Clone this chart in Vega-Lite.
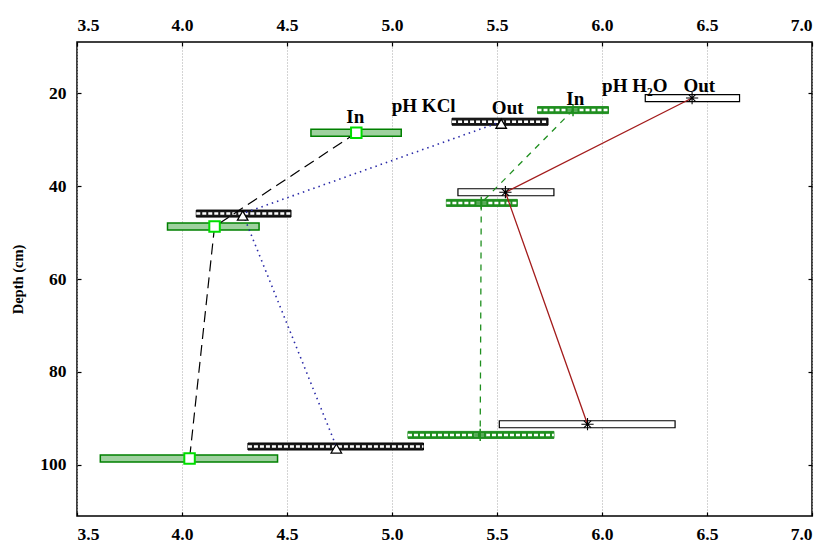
{
  "$schema": "https://vega.github.io/schema/vega-lite/v6.json",
  "width": 735,
  "height": 474,
  "autosize": "none",
  "padding": {"left": 77, "top": 42, "right": 11, "bottom": 29},
  "background": "white",
  "config": {
    "view": {"stroke": "black", "strokeWidth": 1.5},
    "font": "Liberation Serif",
    "axis": {
      "domain": false,
      "labelFont": "Liberation Serif",
      "labelFontWeight": "bold",
      "labelFontSize": 17.5,
      "labelColor": "black",
      "tickColor": "black",
      "tickWidth": 1.2,
      "titleFont": "Liberation Serif",
      "titleFontWeight": "bold",
      "titleFontSize": 14.5,
      "titleColor": "black"
    }
  },
  "datasets": {
    "profiles": [
      {"series": "KCl In", "depth": 28.5, "mean": 4.83, "lo": 4.614, "hi": 5.044},
      {"series": "KCl In", "depth": 48.7, "mean": 4.155, "lo": 3.931, "hi": 4.367},
      {"series": "KCl In", "depth": 98.7, "mean": 4.036, "lo": 3.611, "hi": 4.455},
      {"series": "KCl Out", "depth": 26.1, "mean": 5.52, "lo": 5.286, "hi": 5.743},
      {"series": "KCl Out", "depth": 45.9, "mean": 4.289, "lo": 4.068, "hi": 4.519},
      {"series": "KCl Out", "depth": 96.1, "mean": 4.735, "lo": 4.314, "hi": 5.15},
      {"series": "H2O In", "depth": 23.6, "mean": 5.862, "lo": 5.693, "hi": 6.031},
      {"series": "H2O In", "depth": 43.6, "mean": 5.425, "lo": 5.259, "hi": 5.597},
      {"series": "H2O In", "depth": 93.6, "mean": 5.42, "lo": 5.076, "hi": 5.771},
      {"series": "H2O Out", "depth": 21.0, "mean": 6.429, "lo": 6.206, "hi": 6.655},
      {"series": "H2O Out", "depth": 41.3, "mean": 5.54, "lo": 5.314, "hi": 5.771},
      {"series": "H2O Out", "depth": 91.3, "mean": 5.931, "lo": 5.511, "hi": 6.348}
    ],
    "labels": [
      {"text": "In", "mean": 4.825, "depth": 25.0},
      {"text": "pH KCl", "mean": 5.151, "depth": 22.8},
      {"text": "Out", "mean": 5.551, "depth": 23.1},
      {"text": "In", "mean": 5.873, "depth": 21.3},
      {"text": "pH H₂O", "mean": 6.156, "depth": 18.4},
      {"text": "Out", "mean": 6.463, "depth": 18.4}
    ]
  },
  "layer": [
    {
      "data": {"name": "profiles"},
      "transform": [{"filter": "datum.series === 'KCl In'"}],
      "mark": {"type": "bar", "orient": "horizontal", "size": 7, "fill": "#9fd19f", "stroke": "#008000", "strokeWidth": 1.5},
      "encoding": {
        "x": {"field": "lo", "type": "quantitative", "scale": {"domain": [3.5, 7], "nice": false, "zero": false},
          "axis": {"orient": "bottom", "title": null, "values": [3.5, 4, 4.5, 5, 5.5, 6, 6.5, 7], "format": ".1f",
            "grid": true, "gridDash": [1, 2], "gridColor": "#a8a8a8", "tickSize": -4, "labelPadding": 13}},
        "x2": {"field": "hi"},
        "y": {"field": "depth", "type": "quantitative", "scale": {"domain": [10, 110], "nice": false, "zero": false, "reverse": true},
          "axis": {"orient": "left", "title": "Depth (cm)", "values": [20, 40, 60, 80, 100], "grid": false,
            "tickSize": -4, "labelPadding": 15, "titlePadding": 14}}
      }
    },
    {
      "data": {"name": "profiles"},
      "transform": [{"filter": "datum.series === 'KCl Out'"}],
      "mark": {"type": "bar", "orient": "horizontal", "size": 7, "fill": "#1a1a1a", "stroke": "black", "strokeWidth": 1},
      "encoding": {
        "x": {"field": "lo", "type": "quantitative", "scale": {"domain": [3.5, 7], "nice": false, "zero": false},
          "axis": {"orient": "top", "title": null, "values": [3.5, 4, 4.5, 5, 5.5, 6, 6.5, 7], "format": ".1f",
            "grid": false, "tickSize": -4, "labelPadding": 12}},
        "x2": {"field": "hi"},
        "y": {"field": "depth", "type": "quantitative", "scale": {"domain": [10, 110], "nice": false, "zero": false, "reverse": true},
          "axis": {"orient": "right", "title": null, "values": [20, 40, 60, 80, 100], "grid": false, "labels": false, "tickSize": -4}}
      }
    },
    {
      "data": {"name": "profiles"},
      "transform": [{"filter": "datum.series === 'KCl Out'"}],
      "mark": {"type": "rule", "color": "white", "strokeWidth": 2.5, "strokeDash": [4, 2]},
      "encoding": {
        "x": {"field": "lo", "type": "quantitative", "scale": {"domain": [3.5, 7], "nice": false, "zero": false}, "axis": null},
        "x2": {"field": "hi"},
        "y": {"field": "depth", "type": "quantitative", "scale": {"domain": [10, 110], "nice": false, "zero": false, "reverse": true}, "axis": null}
      }
    },
    {
      "data": {"name": "profiles"},
      "transform": [{"filter": "datum.series === 'H2O In'"}],
      "mark": {"type": "bar", "orient": "horizontal", "size": 7, "fill": "#1f8f1f", "stroke": "#1f8f1f", "strokeWidth": 1},
      "encoding": {
        "x": {"field": "lo", "type": "quantitative", "scale": {"domain": [3.5, 7], "nice": false, "zero": false}, "axis": null},
        "x2": {"field": "hi"},
        "y": {"field": "depth", "type": "quantitative", "scale": {"domain": [10, 110], "nice": false, "zero": false, "reverse": true}, "axis": null}
      }
    },
    {
      "data": {"name": "profiles"},
      "transform": [{"filter": "datum.series === 'H2O In'"}],
      "mark": {"type": "rule", "color": "white", "strokeWidth": 2.5, "strokeDash": [4, 2]},
      "encoding": {
        "x": {"field": "lo", "type": "quantitative", "scale": {"domain": [3.5, 7], "nice": false, "zero": false}, "axis": null},
        "x2": {"field": "hi"},
        "y": {"field": "depth", "type": "quantitative", "scale": {"domain": [10, 110], "nice": false, "zero": false, "reverse": true}, "axis": null}
      }
    },
    {
      "data": {"name": "profiles"},
      "transform": [{"filter": "datum.series === 'H2O Out'"}],
      "mark": {"type": "bar", "orient": "horizontal", "size": 7, "fill": "white", "stroke": "black", "strokeWidth": 1.2},
      "encoding": {
        "x": {"field": "lo", "type": "quantitative", "scale": {"domain": [3.5, 7], "nice": false, "zero": false}, "axis": null},
        "x2": {"field": "hi"},
        "y": {"field": "depth", "type": "quantitative", "scale": {"domain": [10, 110], "nice": false, "zero": false, "reverse": true}, "axis": null}
      }
    },
    {
      "data": {"name": "profiles"},
      "transform": [{"filter": "datum.series === 'KCl In'"}],
      "mark": {"type": "line", "color": "black", "strokeWidth": 1.2, "strokeDash": [11, 6]},
      "encoding": {
        "x": {"field": "mean", "type": "quantitative", "scale": {"domain": [3.5, 7], "nice": false, "zero": false}, "axis": null},
        "y": {"field": "depth", "type": "quantitative", "scale": {"domain": [10, 110], "nice": false, "zero": false, "reverse": true}, "axis": null},
        "order": {"field": "depth"}
      }
    },
    {
      "data": {"name": "profiles"},
      "transform": [{"filter": "datum.series === 'KCl Out'"}],
      "mark": {"type": "line", "color": "#2a2aa8", "strokeWidth": 1.6, "strokeDash": [1.5, 4]},
      "encoding": {
        "x": {"field": "mean", "type": "quantitative", "scale": {"domain": [3.5, 7], "nice": false, "zero": false}, "axis": null},
        "y": {"field": "depth", "type": "quantitative", "scale": {"domain": [10, 110], "nice": false, "zero": false, "reverse": true}, "axis": null},
        "order": {"field": "depth"}
      }
    },
    {
      "data": {"name": "profiles"},
      "transform": [{"filter": "datum.series === 'H2O In'"}],
      "mark": {"type": "line", "color": "#1f8f1f", "strokeWidth": 1.3, "strokeDash": [6, 6]},
      "encoding": {
        "x": {"field": "mean", "type": "quantitative", "scale": {"domain": [3.5, 7], "nice": false, "zero": false}, "axis": null},
        "y": {"field": "depth", "type": "quantitative", "scale": {"domain": [10, 110], "nice": false, "zero": false, "reverse": true}, "axis": null},
        "order": {"field": "depth"}
      }
    },
    {
      "data": {"name": "profiles"},
      "transform": [{"filter": "datum.series === 'H2O Out'"}],
      "mark": {"type": "line", "color": "#a31c1c", "strokeWidth": 1.3},
      "encoding": {
        "x": {"field": "mean", "type": "quantitative", "scale": {"domain": [3.5, 7], "nice": false, "zero": false}, "axis": null},
        "y": {"field": "depth", "type": "quantitative", "scale": {"domain": [10, 110], "nice": false, "zero": false, "reverse": true}, "axis": null},
        "order": {"field": "depth"}
      }
    },
    {
      "data": {"name": "profiles"},
      "transform": [{"filter": "datum.series === 'KCl In'"}],
      "mark": {"type": "point", "shape": "square", "size": 110, "filled": true, "fill": "white", "stroke": "#00dd00", "strokeWidth": 2, "opacity": 1},
      "encoding": {
        "x": {"field": "mean", "type": "quantitative", "scale": {"domain": [3.5, 7], "nice": false, "zero": false}, "axis": null},
        "y": {"field": "depth", "type": "quantitative", "scale": {"domain": [10, 110], "nice": false, "zero": false, "reverse": true}, "axis": null}
      }
    },
    {
      "data": {"name": "profiles"},
      "transform": [{"filter": "datum.series === 'KCl Out'"}],
      "mark": {"type": "point", "shape": "triangle-up", "size": 110, "filled": true, "fill": "white", "stroke": "black", "strokeWidth": 1.3, "opacity": 1, "yOffset": 2},
      "encoding": {
        "x": {"field": "mean", "type": "quantitative", "scale": {"domain": [3.5, 7], "nice": false, "zero": false}, "axis": null},
        "y": {"field": "depth", "type": "quantitative", "scale": {"domain": [10, 110], "nice": false, "zero": false, "reverse": true}, "axis": null}
      }
    },
    {
      "data": {"name": "profiles"},
      "transform": [{"filter": "datum.series === 'H2O In'"}],
      "mark": {"type": "point", "shape": "M-1,0H1M0,-1V1", "size": 150, "filled": false, "stroke": "#1f8f1f", "strokeWidth": 1.5, "opacity": 1},
      "encoding": {
        "x": {"field": "mean", "type": "quantitative", "scale": {"domain": [3.5, 7], "nice": false, "zero": false}, "axis": null},
        "y": {"field": "depth", "type": "quantitative", "scale": {"domain": [10, 110], "nice": false, "zero": false, "reverse": true}, "axis": null}
      }
    },
    {
      "data": {"name": "profiles"},
      "transform": [{"filter": "datum.series === 'H2O Out'"}],
      "mark": {"type": "point", "shape": "M-1,0H1M0,-1V1M-0.6,-0.6L0.6,0.6M-0.6,0.6L0.6,-0.6", "size": 150, "filled": false, "stroke": "black", "strokeWidth": 1.1, "opacity": 1},
      "encoding": {
        "x": {"field": "mean", "type": "quantitative", "scale": {"domain": [3.5, 7], "nice": false, "zero": false}, "axis": null},
        "y": {"field": "depth", "type": "quantitative", "scale": {"domain": [10, 110], "nice": false, "zero": false, "reverse": true}, "axis": null}
      }
    },
    {
      "data": {"name": "labels"},
      "mark": {"type": "text", "font": "Liberation Serif", "fontWeight": "bold", "fontSize": 19, "color": "black", "align": "center", "baseline": "middle"},
      "encoding": {
        "x": {"field": "mean", "type": "quantitative", "scale": {"domain": [3.5, 7], "nice": false, "zero": false}, "axis": null},
        "y": {"field": "depth", "type": "quantitative", "scale": {"domain": [10, 110], "nice": false, "zero": false, "reverse": true}, "axis": null},
        "text": {"field": "text"}
      }
    }
  ]
}
